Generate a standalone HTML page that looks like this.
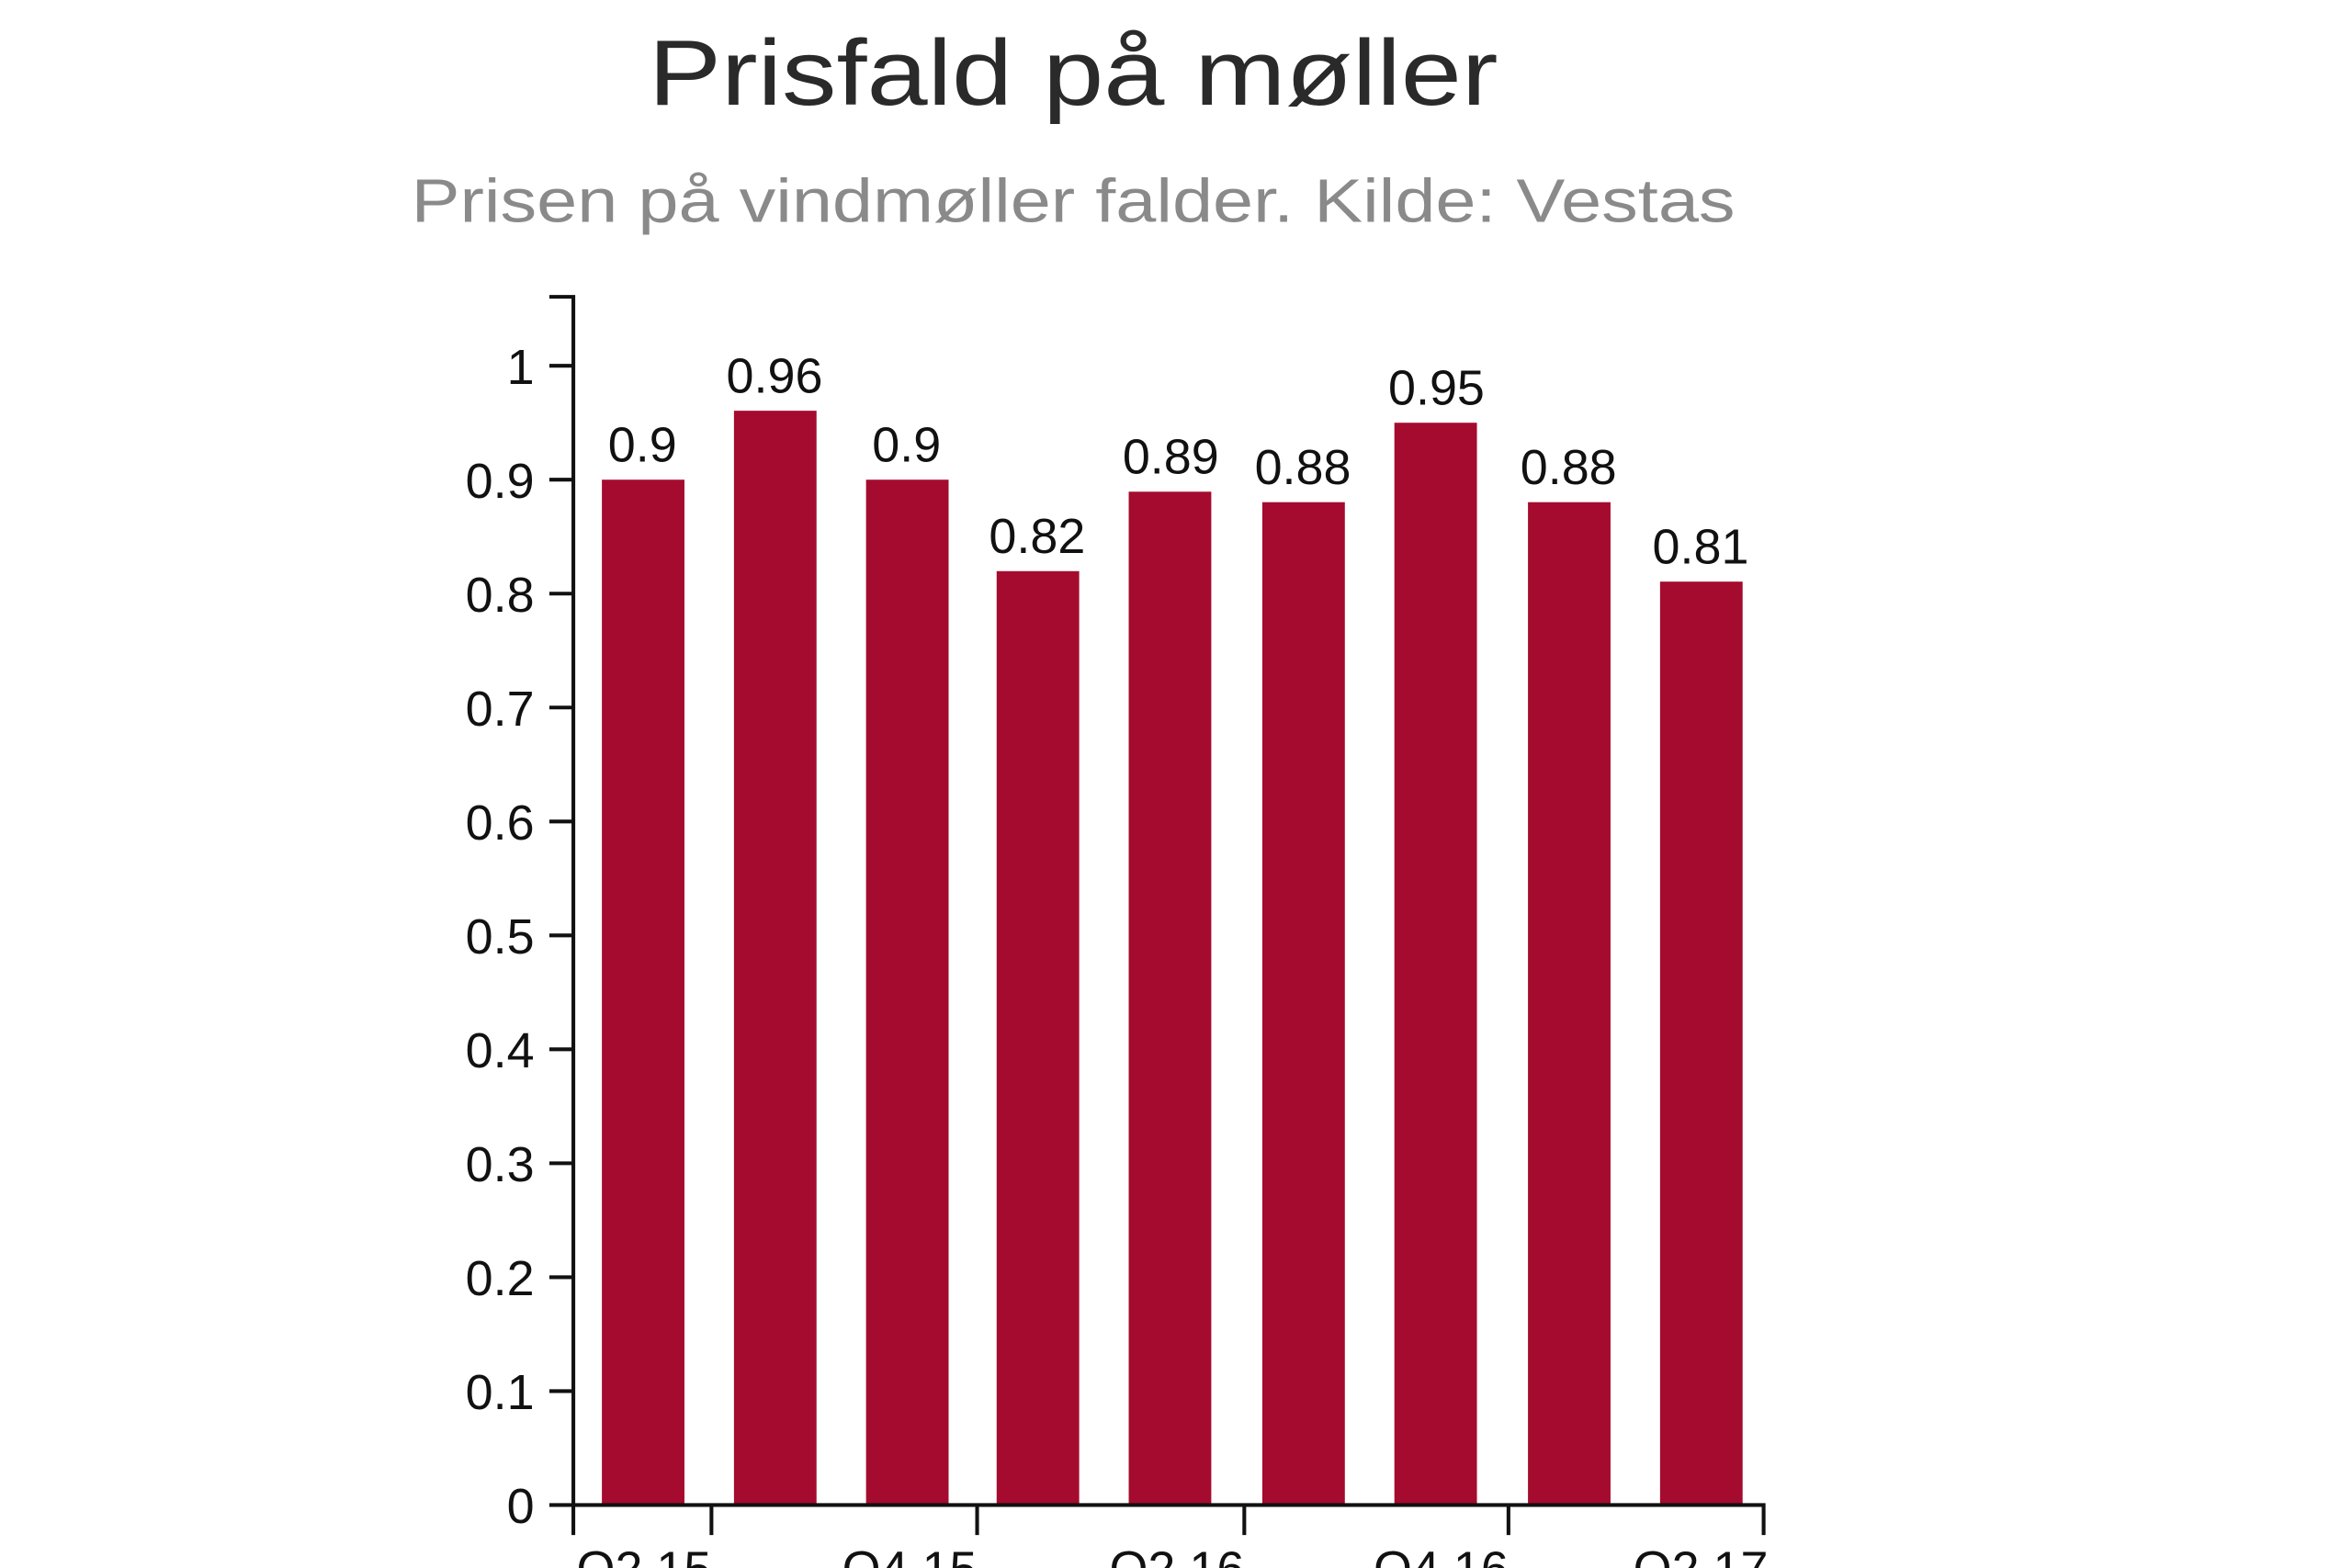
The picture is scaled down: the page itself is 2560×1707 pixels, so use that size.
<!DOCTYPE html>
<html><head><meta charset="utf-8"><style>html,body{margin:0;padding:0;background:#fff;}svg{display:block;}</style></head>
<body>
<svg width="2560" height="1707" viewBox="0 0 1567 1046" preserveAspectRatio="none" xmlns="http://www.w3.org/2000/svg" font-family="Liberation Sans, Arial, sans-serif">
<rect width="1567" height="1046" fill="#fff"/>
<text x="715" y="70" text-anchor="middle" font-size="62" fill="#2a2a2a" textLength="566" lengthAdjust="spacingAndGlyphs">Prisfald på møller</text>
<text x="715" y="148" text-anchor="middle" font-size="41" fill="#8a8a8a" textLength="882" lengthAdjust="spacingAndGlyphs">Prisen på vindmøller falder. Kilde: Vestas</text>
<g fill="#a50b2e">
<rect x="401" y="320" width="55" height="684"/>
<rect x="489" y="274" width="55" height="730"/>
<rect x="577" y="320" width="55" height="684"/>
<rect x="664" y="381" width="55" height="623"/>
<rect x="752" y="328" width="55" height="676"/>
<rect x="841" y="335" width="55" height="669"/>
<rect x="929" y="282" width="55" height="722"/>
<rect x="1018" y="335" width="55" height="669"/>
<rect x="1106" y="388" width="55" height="616"/>
</g>
<g font-size="33" fill="#111" text-anchor="middle">
<text x="428" y="308">0.9</text>
<text x="516" y="262">0.96</text>
<text x="604" y="308">0.9</text>
<text x="691" y="369">0.82</text>
<text x="780" y="316">0.89</text>
<text x="868" y="323">0.88</text>
<text x="957" y="270">0.95</text>
<text x="1045" y="323">0.88</text>
<text x="1133" y="376">0.81</text>
</g>
<g stroke="#111" stroke-width="2.5" fill="none">
<path d="M366,198H382V1004"/>
<path d="M366,1004H1175V1024"/>
<path d="M366,244H382M366,320H382M366,396H382M366,472H382M366,548H382M366,624H382M366,700H382M366,776H382M366,852H382M366,928H382"/>
<path d="M382,1004V1024M474,1004V1024M651,1004V1024M829,1004V1024M1005,1004V1024"/>
</g>
<g font-size="33" fill="#111" text-anchor="end">
<text x="356" y="256">1</text>
<text x="356" y="332">0.9</text>
<text x="356" y="408">0.8</text>
<text x="356" y="484">0.7</text>
<text x="356" y="560">0.6</text>
<text x="356" y="636">0.5</text>
<text x="356" y="712">0.4</text>
<text x="356" y="788">0.3</text>
<text x="356" y="864">0.2</text>
<text x="356" y="940">0.1</text>
<text x="356" y="1016">0</text>
</g>
<g font-size="33" fill="#111" text-anchor="end">
<text x="474" y="1058">Q2 15</text>
<text x="651" y="1058">Q4 15</text>
<text x="829" y="1058">Q2 16</text>
<text x="1005" y="1058">Q4 16</text>
<text x="1178" y="1058">Q2 17</text>
</g>
</svg>
</body></html>
